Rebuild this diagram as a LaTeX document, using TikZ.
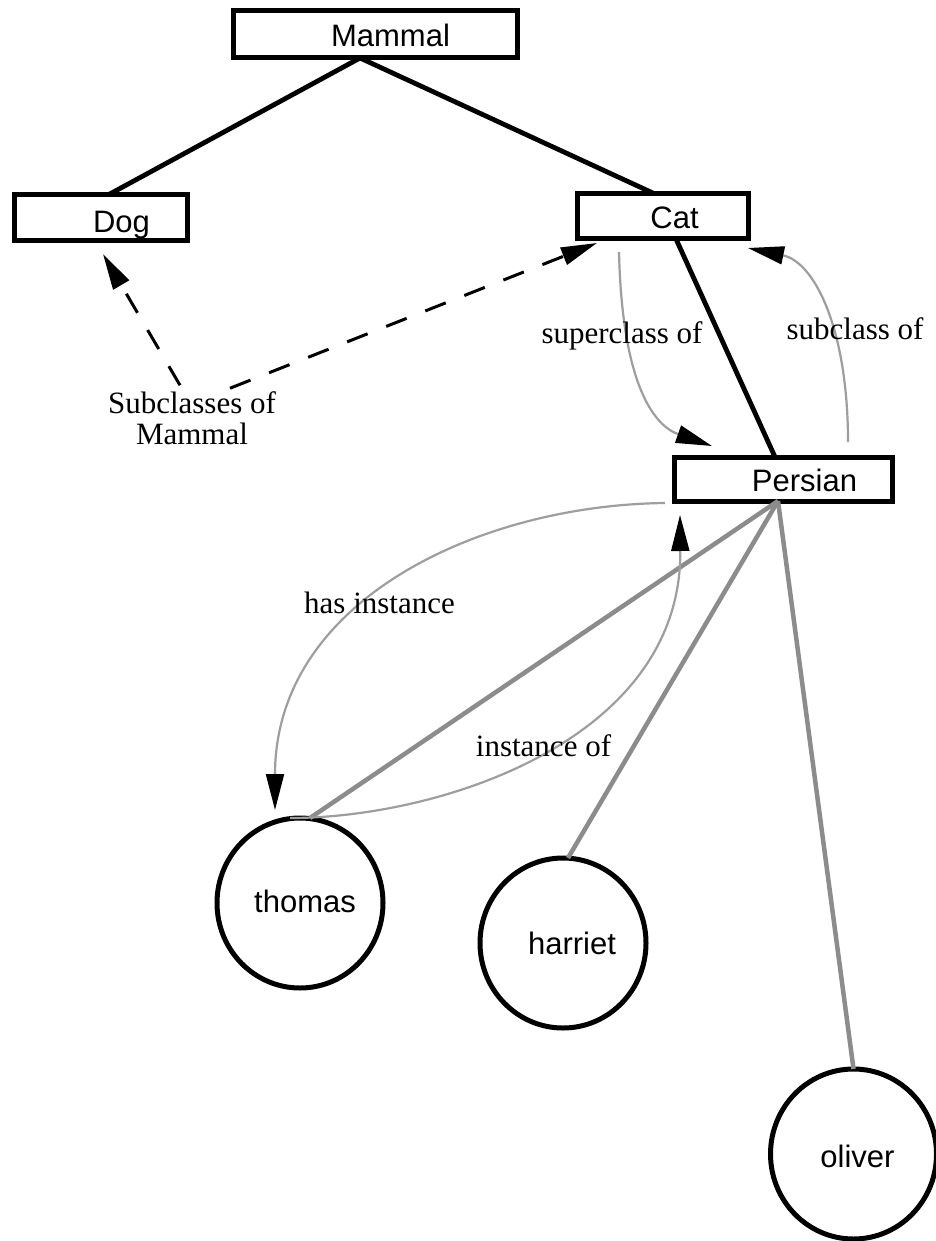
\documentclass[tikz,border=0pt]{standalone}
\usepackage{fontspec}
\setmainfont{Liberation Serif}
\newfontfamily\helv{Liberation Sans}
\usetikzlibrary{arrows.meta,shapes.geometric,calc}
\definecolor{memgray}{gray}{0.55}
\definecolor{relgray}{gray}{0.62}
\begin{document}
\begin{tikzpicture}[x=1pt,y=-1pt,
  box/.style={draw,line width=5pt,rectangle,inner sep=0pt,outer sep=0pt},
  inst/.style={draw,line width=5pt,ellipse,inner sep=0pt,outer sep=0pt,minimum width=166pt,minimum height=170pt},
  ntext/.style={font=\helv\fontsize{31}{34}\selectfont,inner sep=0pt},
  etext/.style={font=\fontsize{31}{31}\selectfont,anchor=base,inner sep=0pt},
  tree/.style={line width=4.8pt},
  member/.style={line width=4.5pt,draw=memgray},
  rel/.style={line width=2.2pt,draw=relgray,-{Triangle[length=36pt,width=18pt,color=black]}},
  sub/.style={line width=3pt,dash pattern=on 22pt off 20pt,-{Triangle[length=36pt,width=18pt]}}
]
\fill[white] (0,0) rectangle (936,1241);
\useasboundingbox (0,0) rectangle (936,1241);

% class boxes
\node[box,minimum width=284pt,minimum height=47pt,
  label={[ntext,xshift=15.5pt,yshift=-1.4pt]center:Mammal}] (mammal) at (375,34.5) {};
\node[box,minimum width=173pt,minimum height=46pt,
  label={[ntext,xshift=21pt,yshift=-6.8pt]center:Dog}] (dog) at (100.5,218) {};
\node[box,minimum width=171pt,minimum height=45pt,
  label={[ntext,xshift=12pt,yshift=-1.4pt]center:Cat}] (cat) at (662.5,216.5) {};
\node[box,minimum width=218pt,minimum height=44pt,
  label={[ntext,xshift=21.5pt,yshift=-1.9pt]center:Persian}] (persian) at (783,479) {};

% instances
\node[inst,label={[ntext,xshift=5pt,yshift=2pt]center:thomas}] (thomas) at (300,903) {};
\node[inst,label={[ntext,xshift=9pt,yshift=0pt]center:harriet}] (harriet) at (563,943) {};
\node[inst,label={[ntext,xshift=4pt,yshift=-2pt]center:oliver}] (oliver) at (853.5,1154) {};

% hierarchy
\draw[tree] ($(mammal.south)+(-15,0)$) -- ($(dog.north)+(7.5,0)$);
\draw[tree] ($(mammal.south)+(-15,0)$) -- ($(cat.north)+(-7.5,0)$);
\draw[tree] ($(cat.south)+(13.5,0)$) -- ($(persian.north)+(-8,0)$);

% membership
\draw[member] ($(persian.south)+(-5,0)$) -- ($(thomas.north)+(10,0)$);
\draw[member] ($(persian.south)+(-5,0)$) -- ($(harriet.north)+(5,0)$);
\draw[member] ($(persian.south)+(-5,0)$) -- (oliver.north);

% relation curves
\draw[rel] ($(cat.south)+(-43.5,13)$) .. controls (622,380) and (652,425) .. ($(persian.north)+(-71,-11)$);
\draw[rel] ($(persian.north)+(65,-15)$) .. controls (848,330) and (815,262) .. ($(cat.south east)+(0,9)$);
\draw[rel] ($(persian.south west)+(-9,2)$) .. controls (480,505) and (275,600) .. ($(thomas.north)+(-25,-8)$);
\draw[rel] ($(thomas.north)+(-10,0)$) .. controls (440,818) and (682,740) .. ($(persian.south west)+(6,14)$);

% subclasses label and dashed arrows
\node[font=\fontsize{31}{31}\selectfont,inner sep=0pt,align=center] (sublab) at (192,418) {Subclasses of\\Mammal};
\draw[sub] ($(sublab.north)+(-12,-6)$) -- ($(dog.south)+(2.5,13)$);
\draw[sub] ($(sublab.north)+(38,-3)$) -- ($(cat.south west)+(20,4)$);

% edge labels
\node[etext] (lsuper) at (622,343) {superclass of};
\node[etext] (lsubc) at (855,339) {subclass of};
\node[etext] (lhas) at (379.5,613) {has instance};
\node[etext] (linst) at (543.5,756) {instance of};
\end{tikzpicture}
\end{document}
